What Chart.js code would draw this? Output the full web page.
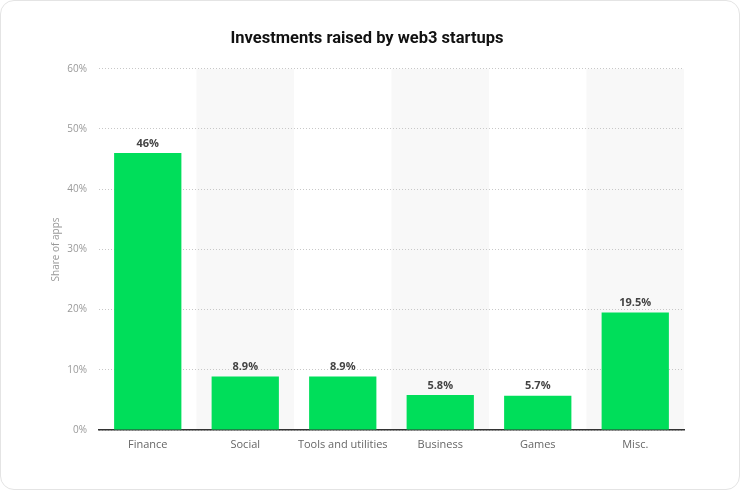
<!DOCTYPE html>
<html>
<head>
<meta charset="utf-8">
<script src="https://cdn.jsdelivr.net/npm/chart.js@4/dist/chart.umd.min.js"></script>
<style>
  html, body { margin: 0; padding: 0; background: #ffffff; }
  .card {
    position: absolute; left: 0; top: 0;
    width: 738px; height: 488px;
    border: 1px solid #e4e4e4; border-radius: 14px;
    background: #fff; overflow: hidden;
  }
  canvas { display: block; }
</style>
</head>
<body>
<div class="card">
  <canvas id="chart" width="738" height="488"></canvas>
</div>
<script>
const categories = ['Finance', 'Social', 'Tools and utilities', 'Business', 'Games', 'Misc.'];
const shares = [46, 8.9, 8.9, 5.8, 5.7, 19.5];
const valueLabels = ['46%', '8.9%', '8.9%', '5.8%', '5.7%', '19.5%'];

// shaded background for every second category, drawn under the grid
const bandPlugin = {
  id: 'bands',
  beforeDraw(chart) {
    const { ctx, chartArea, scales } = chart;
    const x = scales.x;
    const step = x.width / categories.length;
    ctx.save();
    ctx.fillStyle = '#f8f8f8';
    categories.forEach((c, i) => {
      if (i % 2 === 1) {
        const cx = x.getPixelForValue(i);
        ctx.fillRect(cx - step / 2, chartArea.top, step, chartArea.bottom - chartArea.top);
      }
    });
    ctx.restore();
  }
};

const labelPlugin = {
  id: 'valueLabels',
  afterDatasetsDraw(chart) {
    const { ctx } = chart;
    const meta = chart.getDatasetMeta(0);
    ctx.save();
    ctx.font = 'bold 11px "Open Sans", sans-serif';
    ctx.fillStyle = '#444';
    ctx.textAlign = 'center';
    ctx.textBaseline = 'bottom';
    meta.data.forEach((bar, i) => {
      ctx.fillText(valueLabels[i], bar.x, bar.y - 4);
    });
    ctx.restore();
  }
};

new Chart(document.getElementById('chart').getContext('2d'), {
  type: 'bar',
  data: {
    labels: categories,
    datasets: [{
      label: 'Share of apps',
      data: shares,
      backgroundColor: '#00de5a',
      borderWidth: 0,
      categoryPercentage: 1,
      barPercentage: 0.69
    }]
  },
  options: {
    responsive: false,
    animation: false,
    layout: { padding: { left: 49, right: 55, top: 0, bottom: 29 } },
    scales: {
      x: {
        grid: { display: false, drawTicks: false },
        border: { display: true, color: '#333', width: 1.5 },
        ticks: { color: '#666', font: { family: 'Open Sans', size: 11 }, padding: 8 },
        afterFit(scale) { scale.height = 30; }
      },
      y: {
        min: 0, max: 60,
        ticks: {
          stepSize: 10, color: '#999', padding: 12,
          font: { family: 'Open Sans', size: 10 },
          callback: v => v + '%'
        },
        grid: { color: '#c8c8c8', drawTicks: false, lineWidth: 1 },
        border: { display: false, dash: [1, 2] },
        title: {
          display: true, text: 'Share of apps', color: '#999',
          font: { family: 'Open Sans', size: 10 }, padding: 0
        },
        afterFit(scale) { scale.width = 49; }
      }
    },
    plugins: {
      legend: { display: false },
      tooltip: { enabled: false },
      title: {
        display: true,
        text: 'Investments raised by web3 startups',
        color: '#111',
        font: { family: 'Roboto', size: 16.5, weight: 'bold' },
        padding: { top: 28, bottom: 20 }
      }
    }
  },
  plugins: [bandPlugin, labelPlugin]
});
</script>
</body>
</html>
